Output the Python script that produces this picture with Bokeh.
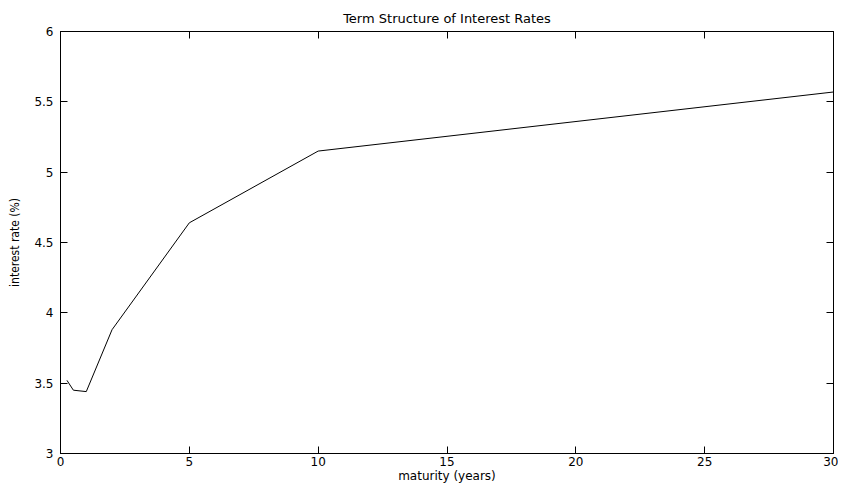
from bokeh.plotting import figure
from bokeh.models import LinearAxis, FixedTicker, Range1d, CustomLabelingPolicy
from bokeh.embed import file_html
from bokeh.resources import INLINE

# Data (maturity in years, interest rate in %)
maturity = [0.25, 0.5, 1, 2, 5, 10, 30]
rate = [3.52, 3.45, 3.44, 3.88, 4.64, 5.15, 5.57]

x_ticks = [0, 5, 10, 15, 20, 25, 30]
x_tick_labels = ["0", "5", "10", "15", "20", "25", "30"]
y_ticks = [3, 3.5, 4, 4.5, 5, 5.5, 6]
y_tick_labels = ["3", "3.5", "4", "4.5", "5", "5.5", "6"]

FONT = "DejaVu Sans"

p = figure(width=838, height=485, output_backend="svg", toolbar_location=None,
           x_range=Range1d(0, 30), y_range=Range1d(3, 6),
           min_border_left=60, min_border_right=5, min_border_top=31, min_border_bottom=32,
           title="Term Structure of Interest Rates")

p.title.align = "center"
p.title.text_font = FONT
p.title.text_font_size = "13px"
p.title.text_font_style = "normal"
p.title.text_color = "black"
p.title.standoff = 3
p.title.offset = 0

p.grid.visible = False
p.outline_line_color = "black"
p.outline_line_width = 1
p.background_fill_color = "white"
p.border_fill_color = "white"

hide_labels = CustomLabelingPolicy(code="""
const all = [...indices];
for (const i of all) indices.unset(i);
return indices;
""")

def style_axis(ax, ticks, labels, show_labels=True):
    ax.ticker = FixedTicker(ticks=ticks)
    ax.major_label_overrides = {t: l for t, l in zip(ticks, labels)}
    ax.major_tick_in = 7
    ax.major_tick_out = 0
    ax.minor_tick_in = 0
    ax.minor_tick_out = 0
    ax.axis_line_color = "black"
    ax.major_tick_line_color = "black"
    ax.major_label_text_font = FONT
    ax.major_label_text_color = "black"
    if show_labels:
        ax.major_label_text_font_size = "12px"
    else:
        ax.major_label_text_font_size = "1px"
        ax.major_label_standoff = 0
        ax.major_label_policy = hide_labels

style_axis(p.xaxis[0], x_ticks, x_tick_labels)
style_axis(p.yaxis[0], y_ticks, y_tick_labels)
p.xaxis[0].major_label_standoff = 3
p.yaxis[0].major_label_standoff = 7

p.xaxis[0].axis_label = "maturity (years)"
p.xaxis[0].axis_label_text_font = FONT
p.xaxis[0].axis_label_text_font_size = "12px"
p.xaxis[0].axis_label_text_font_style = "normal"
p.xaxis[0].axis_label_text_color = "black"
p.xaxis[0].axis_label_standoff = 0

p.yaxis[0].axis_label = "interest rate (%)"
p.yaxis[0].axis_label_text_font = "DejaVu Sans Condensed"
p.yaxis[0].axis_label_text_font_size = "12px"
p.yaxis[0].axis_label_text_font_style = "normal"
p.yaxis[0].axis_label_text_color = "black"
p.yaxis[0].axis_label_standoff = 9

top = LinearAxis()
style_axis(top, x_ticks, x_tick_labels, show_labels=False)
p.add_layout(top, "above")
right = LinearAxis()
style_axis(right, y_ticks, y_tick_labels, show_labels=False)
p.add_layout(right, "right")

p.line(maturity, rate, line_color="black", line_width=1)

open("out.html", "w").write(file_html(p, INLINE))
